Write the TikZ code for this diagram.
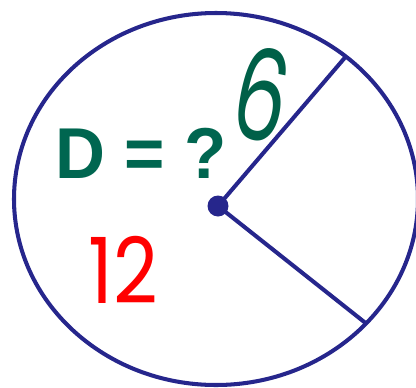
\documentclass[tikz,border=0pt]{standalone}
\usepackage{fontspec}
\usepackage{xcolor}
\usepackage{tikz}
\usetikzlibrary{positioning,calc}
\newfontfamily\eqfont{Liberation Sans}
\newfontfamily\handfont{Poppins}
\definecolor{circblue}{RGB}{38,38,140}
\definecolor{eqgreen}{RGB}{0,102,80}
\definecolor{sixgreen}{RGB}{0,96,72}
\definecolor{numred}{RGB}{255,0,0}
\tikzset{
  rimline/.style={draw=circblue,line width=2.3pt},
  centredot/.style={circle,fill=circblue,inner sep=0pt,minimum size=0.42cm},
  lbl/.style={inner sep=0pt,anchor=center}
}

\begin{document}
\begin{tikzpicture}[x=0.02cm,y=0.02cm]
\useasboundingbox (0,0) rectangle (416,387);
\clip (0,0) rectangle (416,387);
% circle (slightly oval) and its centre
\coordinate (mid) at (216,188);
\draw[rimline] (mid) ellipse [x radius=202, y radius=186];
\node[centredot] (ctr) at (218,181) {};
% two radii
\coordinate (rimA) at ($(mid)+(50:202 and 186)$);
\coordinate (rimB) at ($(mid)+(-42:202 and 186)$);
\draw[rimline] (ctr.center) -- (rimA);
\draw[rimline] (ctr.center) -- (rimB);
% labels
\node[lbl,text=eqgreen,font=\eqfont\bfseries\fontsize{41}{48}\selectfont] (ask) at (141,234) {\scalebox{0.96}[1]{D = ?}};
\node[lbl,text=sixgreen,font=\handfont\fontsize{72}{80}\selectfont,rotate=-12] (six) at (262,293) {\scalebox{0.66}[1]{6}};
\node[lbl,text=numred,font=\handfont\fontsize{52}{58}\selectfont] (given) at (123,117) {\scalebox{0.85}[1]{12}};
\end{tikzpicture}
\end{document}
